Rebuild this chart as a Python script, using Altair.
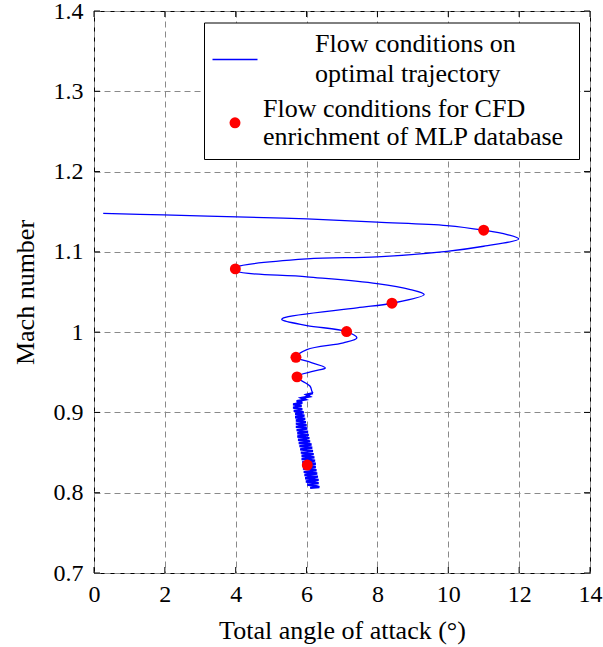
import altair as alt
import pandas as pd

# Smooth upper part of the trajectory (total angle of attack in degrees, Mach number), in path order
traj_aoa = [0.26, 1.96, 4.03, 6.01, 7.99, 9.96, 11.0, 11.66, 11.99, 11.0, 9.96, 7.99, 6.01, 4.03, 3.99,
            4.03, 6.01, 7.99, 8.93, 9.32, 8.41, 7.42, 5.35, 5.30, 6.01, 7.13, 7.42, 7.04, 6.01, 5.70,
            6.01, 6.53, 6.20, 5.73, 6.10, 6.15, 6.18]
traj_mach = [1.148, 1.146, 1.1436, 1.141, 1.137, 1.1328, 1.127, 1.1215, 1.116, 1.107, 1.1007, 1.0938,
             1.0913, 1.0813, 1.0788, 1.0758, 1.0689, 1.0605, 1.053, 1.0468, 1.036, 1.0303, 1.0178,
             1.0157, 1.0082, 1.0007, 0.9929, 0.9867, 0.9783, 0.9687, 0.9638, 0.9555, 0.9513, 0.9443,
             0.9326, 0.9264, 0.924]

# Lower, rapidly oscillating part of the trajectory
osc_aoa = [6.18, 6.00, 6.08, 5.86, 5.96, 5.72, 5.88, 5.62, 5.86, 5.62, 5.88, 5.64, 5.92, 5.68, 5.94,
           5.68, 5.96, 5.70, 5.98, 5.70, 6.00, 5.70, 6.02, 5.72, 6.04, 5.74, 6.06, 5.74, 6.08, 5.76,
           6.10, 5.78, 6.14, 5.80, 6.16, 5.82, 6.18, 5.84, 6.20, 5.86, 6.22, 5.86, 6.24, 5.88, 6.26,
           5.88, 6.26, 5.90, 6.28, 5.92, 6.30, 5.94, 6.32, 5.96, 6.34, 5.98, 6.34, 6.02, 6.30, 6.36,
           6.10]
osc_mach = [0.924, 0.922, 0.920, 0.918, 0.916, 0.914, 0.912, 0.910, 0.908, 0.906, 0.904, 0.902, 0.900,
            0.898, 0.896, 0.894, 0.892, 0.890, 0.888, 0.886, 0.884, 0.882, 0.880, 0.878, 0.876, 0.874,
            0.872, 0.870, 0.868, 0.866, 0.864, 0.862, 0.860, 0.858, 0.856, 0.854, 0.852, 0.850, 0.848,
            0.846, 0.844, 0.842, 0.840, 0.838, 0.836, 0.834, 0.832, 0.830, 0.828, 0.826, 0.824, 0.822,
            0.820, 0.818, 0.816, 0.814, 0.812, 0.810, 0.808, 0.807, 0.806]

# CFD enrichment points
cfd_aoa = [11.0, 3.99, 8.41, 7.13, 5.70, 5.73, 6.02]
cfd_mach = [1.127, 1.0788, 1.036, 1.0007, 0.9687, 0.9443, 0.8345]

x_ticks = [0, 2, 4, 6, 8, 10, 12, 14]
y_ticks = [0.7, 0.8, 0.9, 1.0, 1.1, 1.2, 1.3, 1.4]

legend_line = "Flow conditions on\noptimal trajectory"
legend_dot = "Flow conditions for CFD\nenrichment of MLP database"

W, H = 496, 562
FONT = "Liberation Serif"

traj = pd.DataFrame({"aoa": traj_aoa, "mach": traj_mach, "i": list(range(len(traj_aoa)))})
osc = pd.DataFrame({"aoa": osc_aoa, "mach": osc_mach, "i": list(range(len(osc_aoa)))})
cfd = pd.DataFrame({"aoa": cfd_aoa, "mach": cfd_mach})
xt = pd.DataFrame({"v": x_ticks})
yt = pd.DataFrame({"v": y_ticks})
one = pd.DataFrame({"k": [0]})

xscale = alt.Scale(domain=[0, 14], nice=False, zero=False)
yscale = alt.Scale(domain=[0.7, 1.4], nice=False, zero=False)

xaxis = alt.Axis(values=x_ticks, title="Total angle of attack (°)", grid=True, gridDash=[6, 4],
                 gridColor="#8a8a8a", gridWidth=1, ticks=False, tickSize=0, domain=False,
                 labelFont=FONT, labelFontSize=24, labelColor="black", labelBaseline="alphabetic",
                 labelPadding=28, titleFont=FONT, titleFontSize=26, titleFontWeight="normal",
                 titleColor="black", titleX=W / 2, titleY=65, titleBaseline="alphabetic",
                 labelFlush=False)
yaxis = alt.Axis(values=y_ticks, title="Mach number", grid=True, gridDash=[6, 4],
                 gridColor="#8a8a8a", gridWidth=1, ticks=False, tickSize=0, domain=False,
                 format="~g", labelFont=FONT, labelFontSize=24, labelColor="black",
                 labelPadding=11, titleFont=FONT, titleFontSize=26, titleFontWeight="normal",
                 titleColor="black", titleAngle=270, titleX=-61, titleY=H / 2,
                 titleBaseline="alphabetic", titleAlign="center", labelFlush=False)

line = alt.Chart(traj).mark_line(color="#0000ff", strokeWidth=1.3, interpolate="catmull-rom").encode(
    x=alt.X("aoa:Q", scale=xscale, axis=xaxis),
    y=alt.Y("mach:Q", scale=yscale, axis=yaxis),
    order="i:Q",
)
osc_line = alt.Chart(osc).mark_line(color="#0000ff", strokeWidth=2.4).encode(
    x=alt.X("aoa:Q", scale=xscale),
    y=alt.Y("mach:Q", scale=yscale),
    order="i:Q",
)

dots = alt.Chart(cfd).mark_circle(color="#ff0000", opacity=1, size=120).encode(
    x=alt.X("aoa:Q", scale=xscale),
    y=alt.Y("mach:Q", scale=yscale),
)

tick_style = dict(color="black", strokeWidth=1)
xt_bottom = alt.Chart(xt).mark_rule(**tick_style).encode(
    x=alt.X("v:Q", scale=xscale), y=alt.value(H), y2=alt.value(H - 6))
xt_top = alt.Chart(xt).mark_rule(**tick_style).encode(
    x=alt.X("v:Q", scale=xscale), y=alt.value(0), y2=alt.value(6))
yt_left = alt.Chart(yt).mark_rule(**tick_style).encode(
    y=alt.Y("v:Q", scale=yscale), x=alt.value(0), x2=alt.value(6))
yt_right = alt.Chart(yt).mark_rule(**tick_style).encode(
    y=alt.Y("v:Q", scale=yscale), x=alt.value(W), x2=alt.value(W - 6))

# Legend box (drawn manually, pgfplots style)
leg_box = alt.Chart(one).mark_rect(fill="white", stroke="black", strokeWidth=1).encode(
    x=alt.value(110.5), x2=alt.value(485.5), y=alt.value(12), y2=alt.value(148.5))
leg_line = alt.Chart(one).mark_rule(color="#0000ff", strokeWidth=1.3).encode(
    x=alt.value(118.5), x2=alt.value(163.5), y=alt.value(48.5))
leg_dot = alt.Chart(one).mark_circle(color="#ff0000", opacity=1, size=120).encode(
    x=alt.value(141), y=alt.value(111.8))
leg_t1 = alt.Chart(one).mark_text(text=legend_line, lineBreak="\n", lineHeight=30, align="left",
                                  baseline="alphabetic", font=FONT, fontSize=26, color="black").encode(
    x=alt.value(221), y=alt.value(40.5))
leg_t2 = alt.Chart(one).mark_text(text=legend_dot, lineBreak="\n", lineHeight=28, align="left",
                                  baseline="alphabetic", font=FONT, fontSize=26, color="black").encode(
    x=alt.value(169), y=alt.value(106))

chart = alt.layer(line, osc_line, dots, xt_bottom, xt_top, yt_left, yt_right,
                  leg_box, leg_line, leg_dot, leg_t1, leg_t2).properties(
    width=W, height=H,
    autosize=alt.AutoSizeParams(type="none"),
    padding={"left": 94, "top": 11, "right": 13, "bottom": 74},
    background="white",
).configure_view(stroke="black", strokeWidth=1).configure_axis(
    labelFont=FONT, titleFont=FONT
)

chart.save("out.html", embed_options={"renderer": "svg", "actions": False})
